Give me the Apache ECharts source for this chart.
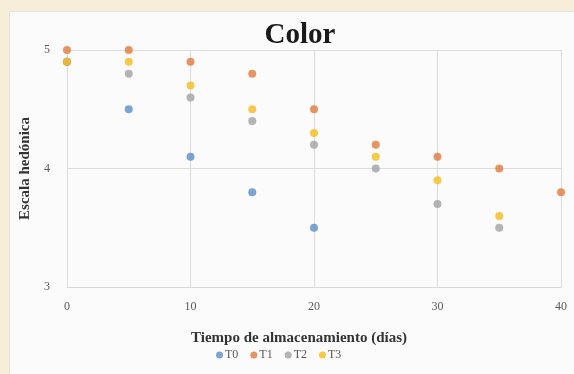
<!DOCTYPE html>
<html><head><meta charset="utf-8">
<script src="https://cdn.jsdelivr.net/npm/echarts@6/dist/echarts.min.js"></script>
<style>html,body{margin:0;padding:0;background:#f6eed8}#c{width:574px;height:374px}</style>
</head><body><div id="c"></div>
<script>
const days = [0, 5, 10, 15, 20, 25, 30, 35, 40];
const seriesNames = ['T0', 'T1', 'T2', 'T3'];
const T0 = [4.9, 4.5, 4.1, 3.8, 3.5];
const T1 = [5.0, 5.0, 4.9, 4.8, 4.5, 4.2, 4.1, 4.0, 3.8];
const T2 = [4.9, 4.8, 4.6, 4.4, 4.2, 4.0, 3.7, 3.5];
const T3 = [4.9, 4.9, 4.7, 4.5, 4.3, 4.1, 3.9, 3.6];
const xTicks = [0, 10, 20, 30, 40];
const yTicks = [3, 4, 5];
const colors = ['#5b8fc7', '#e07b3c', '#a2a2a2', '#f5bd1f'];

const values = [T0, T1, T2, T3];
const serif = '"Liberation Serif", "DejaVu Serif", serif';
const chart = echarts.init(document.getElementById('c'));
chart.setOption({
  backgroundColor: '#f6eed8',
  animation: false,
  graphic: [{type: 'rect', left: 9, top: 11, shape: {width: 565, height: 363},
    style: {fill: '#fbfbfb', stroke: '#e4e4e4', lineWidth: 1}, z: -10}],
  title: {text: 'Color', left: 295, top: 16, textAlign: 'center',
    textStyle: {fontFamily: serif, fontWeight: 'bold', fontSize: 29, color: '#1a1a1a'}},
  grid: {left: 67, right: 13, top: 50, bottom: 87},
  xAxis: {type: 'value', min: xTicks[0], max: xTicks[xTicks.length - 1], interval: 10,
    name: 'Tiempo de almacenamiento (días)', nameLocation: 'middle', nameGap: 44,
    nameTextStyle: {fontFamily: serif, fontWeight: 'bold', fontSize: 15, color: '#333', padding: [0, 30, 0, 0]},
    axisLine: {show: true, lineStyle: {color: '#d9d9d9'}}, axisTick: {show: false},
    axisLabel: {fontFamily: serif, fontSize: 12, color: '#595959', margin: 14},
    splitLine: {show: true, lineStyle: {color: '#dcdcdc'}}},
  yAxis: {type: 'value', min: yTicks[0], max: yTicks[yTicks.length - 1], interval: 1,
    name: 'Escala hedónica', nameLocation: 'middle', nameGap: 27,
    nameTextStyle: {fontFamily: serif, fontWeight: 'bold', fontSize: 15, color: '#333'},
    axisLine: {show: false}, axisTick: {show: false},
    axisLabel: {fontFamily: serif, fontSize: 12, color: '#595959', margin: 17},
    splitLine: {show: true, lineStyle: {color: '#dcdcdc'}}},
  legend: {bottom: 8, left: 211, itemWidth: 7, itemHeight: 7, itemGap: 12,
    icon: 'circle', textStyle: {fontFamily: serif, fontSize: 12, color: '#595959', padding: [0, 0, 0, -3]},
    data: seriesNames},
  series: seriesNames.map((n, i) => ({
    name: n, type: 'scatter', symbolSize: 8, itemStyle: {color: colors[i]},
    data: values[i].map((v, j) => [days[j], v])
  }))
});
</script></body></html>
